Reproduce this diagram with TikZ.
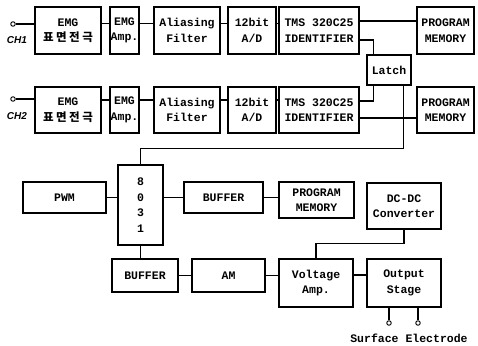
\documentclass[tikz,border=0pt]{standalone}
\usepackage{fontspec}
\setmainfont{Liberation Mono}
\newfontfamily\kor{Noto Sans CJK KR}
\newfontfamily\chfont{Liberation Sans}
\usetikzlibrary{calc}
\tikzset{
  blk/.style={draw, line width=1.1pt, inner sep=0pt, align=center,
    font=\bfseries\fontsize{11.5}{15.5}\selectfont},
  wire/.style={line width=1.1pt},
  term/.style={circle, draw, line width=0.9pt, minimum size=4.5pt, inner sep=0pt},
  chlbl/.style={font=\chfont\bfseries\itshape\fontsize{10}{12}\selectfont, inner sep=0pt}
}
\newcommand{\pyo}{{\kor 표\hspace{2.5pt}면\hspace{2.5pt}전\hspace{2.5pt}극}}

\begin{document}
\begin{tikzpicture}[x=1pt, y=-1pt]
  \useasboundingbox (0,0) rectangle (478,345);

  % Channel 1
  \node[term] (tA) at (13,24) {};
  \node[chlbl] (chA) at (17,40) {CH1};
  \node[blk, minimum width=66pt, minimum height=47pt] (emgA) at (68,30.5) {EMG\\\pyo};
  \node[blk, minimum width=29pt, minimum height=47pt] (ampA) at (124.5,30.5) {EMG\\Amp.};
  \node[blk, minimum width=66pt, minimum height=47pt] (filA) at (187,30.5) {Aliasing\\Filter};
  \node[blk, minimum width=48pt, minimum height=47pt] (adA) at (252,30.5) {12bit\\A/D};
  \node[blk, minimum width=80pt, minimum height=47pt] (tmsA) at (319,30.5) {TMS 320C25\\IDENTIFIER};
  \node[blk, minimum width=57pt, minimum height=47pt] (pmA) at (445.5,30.5) {PROGRAM\\MEMORY};
  \draw[wire] (tA.east) -- (tA.east -| emgA.west);
  \draw[wire] ([yshift=7pt]emgA.east) -- ([yshift=7pt]ampA.west);
  \draw[wire] ([yshift=7pt]ampA.east) -- ([yshift=7pt]filA.west);
  \draw[wire] ([yshift=7pt]filA.east) -- ([yshift=7pt]adA.west);
  \draw[wire] ([yshift=7pt]adA.east) -- ([yshift=7pt]tmsA.west);
  \draw[wire] ([yshift=9.5pt]tmsA.east) -- ([yshift=9.5pt]pmA.west);

  % Latch
  \node[blk, minimum width=44pt, minimum height=30pt] (latch) at (389,70) {Latch};
  \draw[wire] ([yshift=-9.5pt]tmsA.east) -| ([xshift=7pt]latch.north west);

  % Channel 2
  \node[term] (tB) at (13,99) {};
  \node[chlbl] (chB) at (17,116) {CH2};
  \node[blk, minimum width=66pt, minimum height=46pt] (emgB) at (68,110) {EMG\\\pyo};
  \node[blk, minimum width=29pt, minimum height=46pt] (ampB) at (124.5,110) {EMG\\Amp.};
  \node[blk, minimum width=66pt, minimum height=46pt] (filB) at (187,110) {Aliasing\\Filter};
  \node[blk, minimum width=48pt, minimum height=46pt] (adB) at (252,110) {12bit\\A/D};
  \node[blk, minimum width=80pt, minimum height=46pt] (tmsB) at (319,110) {TMS 320C25\\IDENTIFIER};
  \node[blk, minimum width=57pt, minimum height=46pt] (pmB) at (445.5,110) {PROGRAM\\MEMORY};
  \draw[wire] (tB.east) -- (tB.east -| emgB.west);
  \draw[wire] ([yshift=10pt]emgB.east) -- ([yshift=10pt]ampB.west);
  \draw[wire] ([yshift=10pt]ampB.east) -- ([yshift=10pt]filB.west);
  \draw[wire] ([yshift=10pt]filB.east) -- ([yshift=10pt]adB.west);
  \draw[wire] ([yshift=10pt]adB.east) -- ([yshift=10pt]tmsB.west);
  \draw[wire] ([xshift=7pt]latch.south west) |- ([yshift=9pt]tmsB.east);
  \draw[wire] ([yshift=-8pt]tmsB.east) -- ([yshift=-8pt]pmB.west);

  % Controller
  \node[blk, minimum width=83pt, minimum height=31pt] (pwm) at (64.5,197.5) {PWM};
  \node[blk, minimum width=45pt, minimum height=80pt] (mcu) at (140.5,205) {8\\0\\3\\1};
  \node[blk, minimum width=79pt, minimum height=31pt] (bufA) at (223.5,197.5) {BUFFER};
  \node[blk, minimum width=75pt, minimum height=36pt] (pmC) at (316.5,200) {PROGRAM\\MEMORY};
  \node[blk, minimum width=74pt, minimum height=46pt] (dcdc) at (404,206) {DC-DC\\Converter};
  \draw[wire] ([xshift=-8pt]latch.south east) |- ([yshift=16pt]mcu.north) -- (mcu.north);
  \draw[wire] (pwm.east) -- (pwm.east -| mcu.west);
  \draw[wire] (bufA.west -| mcu.east) -- (bufA.west);
  \draw[wire] (bufA.east) -- (bufA.east -| pmC.west);

  % Output side
  \node[blk, minimum width=66pt, minimum height=33pt] (bufB) at (145,275.5) {BUFFER};
  \node[blk, minimum width=73pt, minimum height=33pt] (am) at (228.5,275.5) {AM};
  \node[blk, minimum width=74pt, minimum height=48pt] (va) at (316,283) {Voltage\\Amp.};
  \node[blk, minimum width=74pt, minimum height=48pt] (os) at (404,283) {Output\\Stage};
  \draw[wire] (mcu.south) -- (mcu.south |- bufB.north);
  \draw[wire] (bufB.east) -- (am.west);
  \draw[wire] (am.east) -- (am.east -| va.west);
  \draw[wire] ([yshift=8pt]va.east) -- ([yshift=8pt]os.west);
  \draw[wire] (dcdc.south) |- ([yshift=15pt]va.north) -- (va.north);

  % Electrodes
  \node[term] (eA) at (389,323) {};
  \node[term] (eB) at (418,323) {};
  \draw[wire] (eA |- os.south) -- (eA.north);
  \draw[wire] (eB |- os.south) -- (eB.north);
  \node[font=\bfseries\fontsize{11.5}{14}\selectfont, inner sep=0pt] (elec) at (409,338) {Surface Electrode};
\end{tikzpicture}
\end{document}
